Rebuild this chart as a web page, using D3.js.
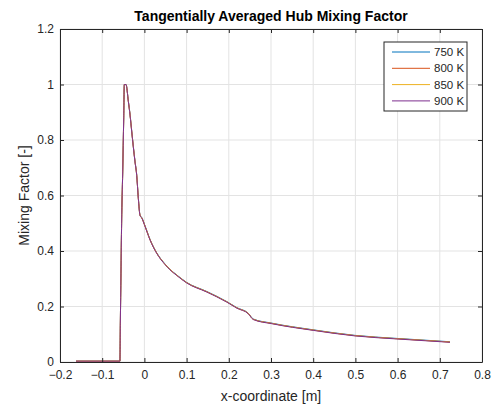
<!DOCTYPE html>
<html>
<head>
<meta charset="utf-8">
<script src="https://cdn.jsdelivr.net/npm/d3@7"></script>
<style>
  body { margin: 0; background: #fff; }
  text { font-family: "Liberation Sans", Arial, sans-serif; }
</style>
</head>
<body>
<script>
// data
var xs = [-0.162, -0.058, -0.057, -0.0555, -0.054, -0.0514, -0.049, -0.0476, -0.0436, -0.038, -0.034,
  -0.030, -0.0263, -0.0223, -0.0183, -0.0144, -0.0104, -0.006, 0.0014, 0.0133, 0.029, 0.049, 0.0607,
  0.0765, 0.100, 0.148, 0.195, 0.219, 0.246, 0.258, 0.302, 0.400, 0.499, 0.598, 0.724];
var mix750 = [0.003, 0.003, 0.14, 0.32, 0.50, 0.685, 0.88, 1.0, 1.0, 0.940, 0.892,
  0.832, 0.778, 0.724, 0.676, 0.592, 0.530, 0.520, 0.491, 0.442, 0.394, 0.353, 0.334,
  0.314, 0.287, 0.254, 0.218, 0.196, 0.176, 0.155, 0.140, 0.116, 0.096, 0.085, 0.073];
var mix800 = [0.003, 0.003, 0.14, 0.32, 0.50, 0.685, 0.88, 1.0, 1.0, 0.939, 0.891,
  0.831, 0.777, 0.723, 0.675, 0.591, 0.529, 0.519, 0.490, 0.441, 0.393, 0.352, 0.333,
  0.313, 0.286, 0.253, 0.217, 0.195, 0.175, 0.154, 0.139, 0.115, 0.095, 0.084, 0.072];
var mix850 = [0.003, 0.003, 0.14, 0.32, 0.50, 0.685, 0.88, 1.0, 1.0, 0.938, 0.890,
  0.830, 0.776, 0.722, 0.674, 0.590, 0.529, 0.519, 0.490, 0.441, 0.393, 0.352, 0.333,
  0.313, 0.286, 0.253, 0.217, 0.195, 0.175, 0.154, 0.139, 0.115, 0.095, 0.084, 0.072];
var mix900 = [0.003, 0.003, 0.14, 0.32, 0.50, 0.685, 0.88, 1.0, 1.0, 0.938, 0.889,
  0.829, 0.775, 0.721, 0.673, 0.589, 0.528, 0.518, 0.489, 0.440, 0.392, 0.351, 0.332,
  0.312, 0.285, 0.252, 0.216, 0.194, 0.174, 0.153, 0.138, 0.114, 0.094, 0.083, 0.071];
var seriesNames = ["750 K", "800 K", "850 K", "900 K"];
var colors = ["#0072BD", "#D95319", "#EDB120", "#7E2F8E"];
var xTicks = [-0.2, -0.1, 0, 0.1, 0.2, 0.3, 0.4, 0.5, 0.6, 0.7, 0.8];
var yTicks = [0, 0.2, 0.4, 0.6, 0.8, 1, 1.2];

var width = 494, height = 407;
var margin = {left: 60, right: 12, top: 29, bottom: 45};

var svg = d3.select("body").append("svg")
  .attr("width", width)
  .attr("height", height);

var x = d3.scaleLinear().domain([-0.2, 0.8]).range([margin.left, width - margin.right]);
var y = d3.scaleLinear().domain([0, 1.2]).range([height - margin.bottom, margin.top]);

// grid
svg.append("g")
  .selectAll("line")
  .data(xTicks)
  .join("line")
    .attr("x1", d => x(d)).attr("x2", d => x(d))
    .attr("y1", y(0)).attr("y2", y(1.2))
    .attr("stroke", "#e3e3e3");
svg.append("g")
  .selectAll("line")
  .data(yTicks)
  .join("line")
    .attr("y1", d => y(d)).attr("y2", d => y(d))
    .attr("x1", x(-0.2)).attr("x2", x(0.8))
    .attr("stroke", "#e3e3e3");

// lines
var all = [mix750, mix800, mix850, mix900];
var line = d3.line()
  .x((d, i) => x(xs[i]))
  .y(d => y(d))
  .curve(d3.curveMonotoneX);
svg.append("g")
  .attr("fill", "none")
  .attr("stroke-width", 1)
  .selectAll("path")
  .data(all)
  .join("path")
    .attr("stroke", (d, i) => colors[i])
    .attr("d", line);

// axes (box on, ticks inward)
var axCol = "#262626";
var fmt = d => d3.format("")(+d.toFixed(1));
var xAx = svg.append("g")
  .attr("transform", `translate(0,${y(0)})`)
  .call(d3.axisBottom(x).tickValues(xTicks).tickSizeInner(-4).tickSizeOuter(0).tickFormat(fmt));
var yAx = svg.append("g")
  .attr("transform", `translate(${x(-0.2)},0)`)
  .call(d3.axisLeft(y).tickValues(yTicks).tickSizeInner(-4).tickSizeOuter(0).tickFormat(fmt));
var xTop = svg.append("g")
  .attr("transform", `translate(0,${y(1.2)})`)
  .call(d3.axisTop(x).tickValues(xTicks).tickSizeInner(-4).tickSizeOuter(0).tickFormat(""));
var yRight = svg.append("g")
  .attr("transform", `translate(${x(0.8)},0)`)
  .call(d3.axisRight(y).tickValues(yTicks).tickSizeInner(-4).tickSizeOuter(0).tickFormat(""));

[xAx, yAx, xTop, yRight].forEach(function(g) {
  g.selectAll("path").attr("stroke", axCol);
  g.selectAll("line").attr("stroke", axCol);
  g.selectAll("text")
    .attr("fill", axCol)
    .style("font-family", "'Liberation Sans', Arial, sans-serif")
    .style("font-size", "12px");
});
xAx.selectAll("text").attr("dy", "1.05em").attr("y", 4);
yAx.selectAll("text").attr("x", -6);

// title and labels
svg.append("text")
  .attr("x", (x(-0.2) + x(0.8)) / 2)
  .attr("y", 21)
  .attr("text-anchor", "middle")
  .style("font-size", "14px")
  .style("font-weight", "bold")
  .attr("fill", "#000")
  .text("Tangentially Averaged Hub Mixing Factor");

svg.append("text")
  .attr("x", (x(-0.2) + x(0.8)) / 2)
  .attr("y", 401)
  .attr("text-anchor", "middle")
  .style("font-size", "14px")
  .attr("fill", axCol)
  .text("x-coordinate [m]");

svg.append("text")
  .attr("transform", `translate(29,${(y(0) + y(1.2)) / 2}) rotate(-90)`)
  .attr("text-anchor", "middle")
  .style("font-size", "14px")
  .attr("fill", axCol)
  .text("Mixing Factor [-]");

// legend
var lg = svg.append("g").attr("transform", "translate(384,42)");
lg.append("rect")
  .attr("width", 83).attr("height", 69)
  .attr("fill", "#fff").attr("stroke", axCol).attr("stroke-width", 1);
var item = lg.selectAll("g")
  .data(seriesNames)
  .join("g")
    .attr("transform", (d, i) => `translate(0,${10 + i * 16.3})`);
item.append("line")
  .attr("x1", 8).attr("x2", 46)
  .attr("stroke", (d, i) => colors[i]);
item.append("text")
  .attr("x", 50).attr("dy", "0.35em")
  .style("font-size", "11.5px")
  .attr("fill", axCol)
  .text(d => d);
</script>
</body>
</html>
